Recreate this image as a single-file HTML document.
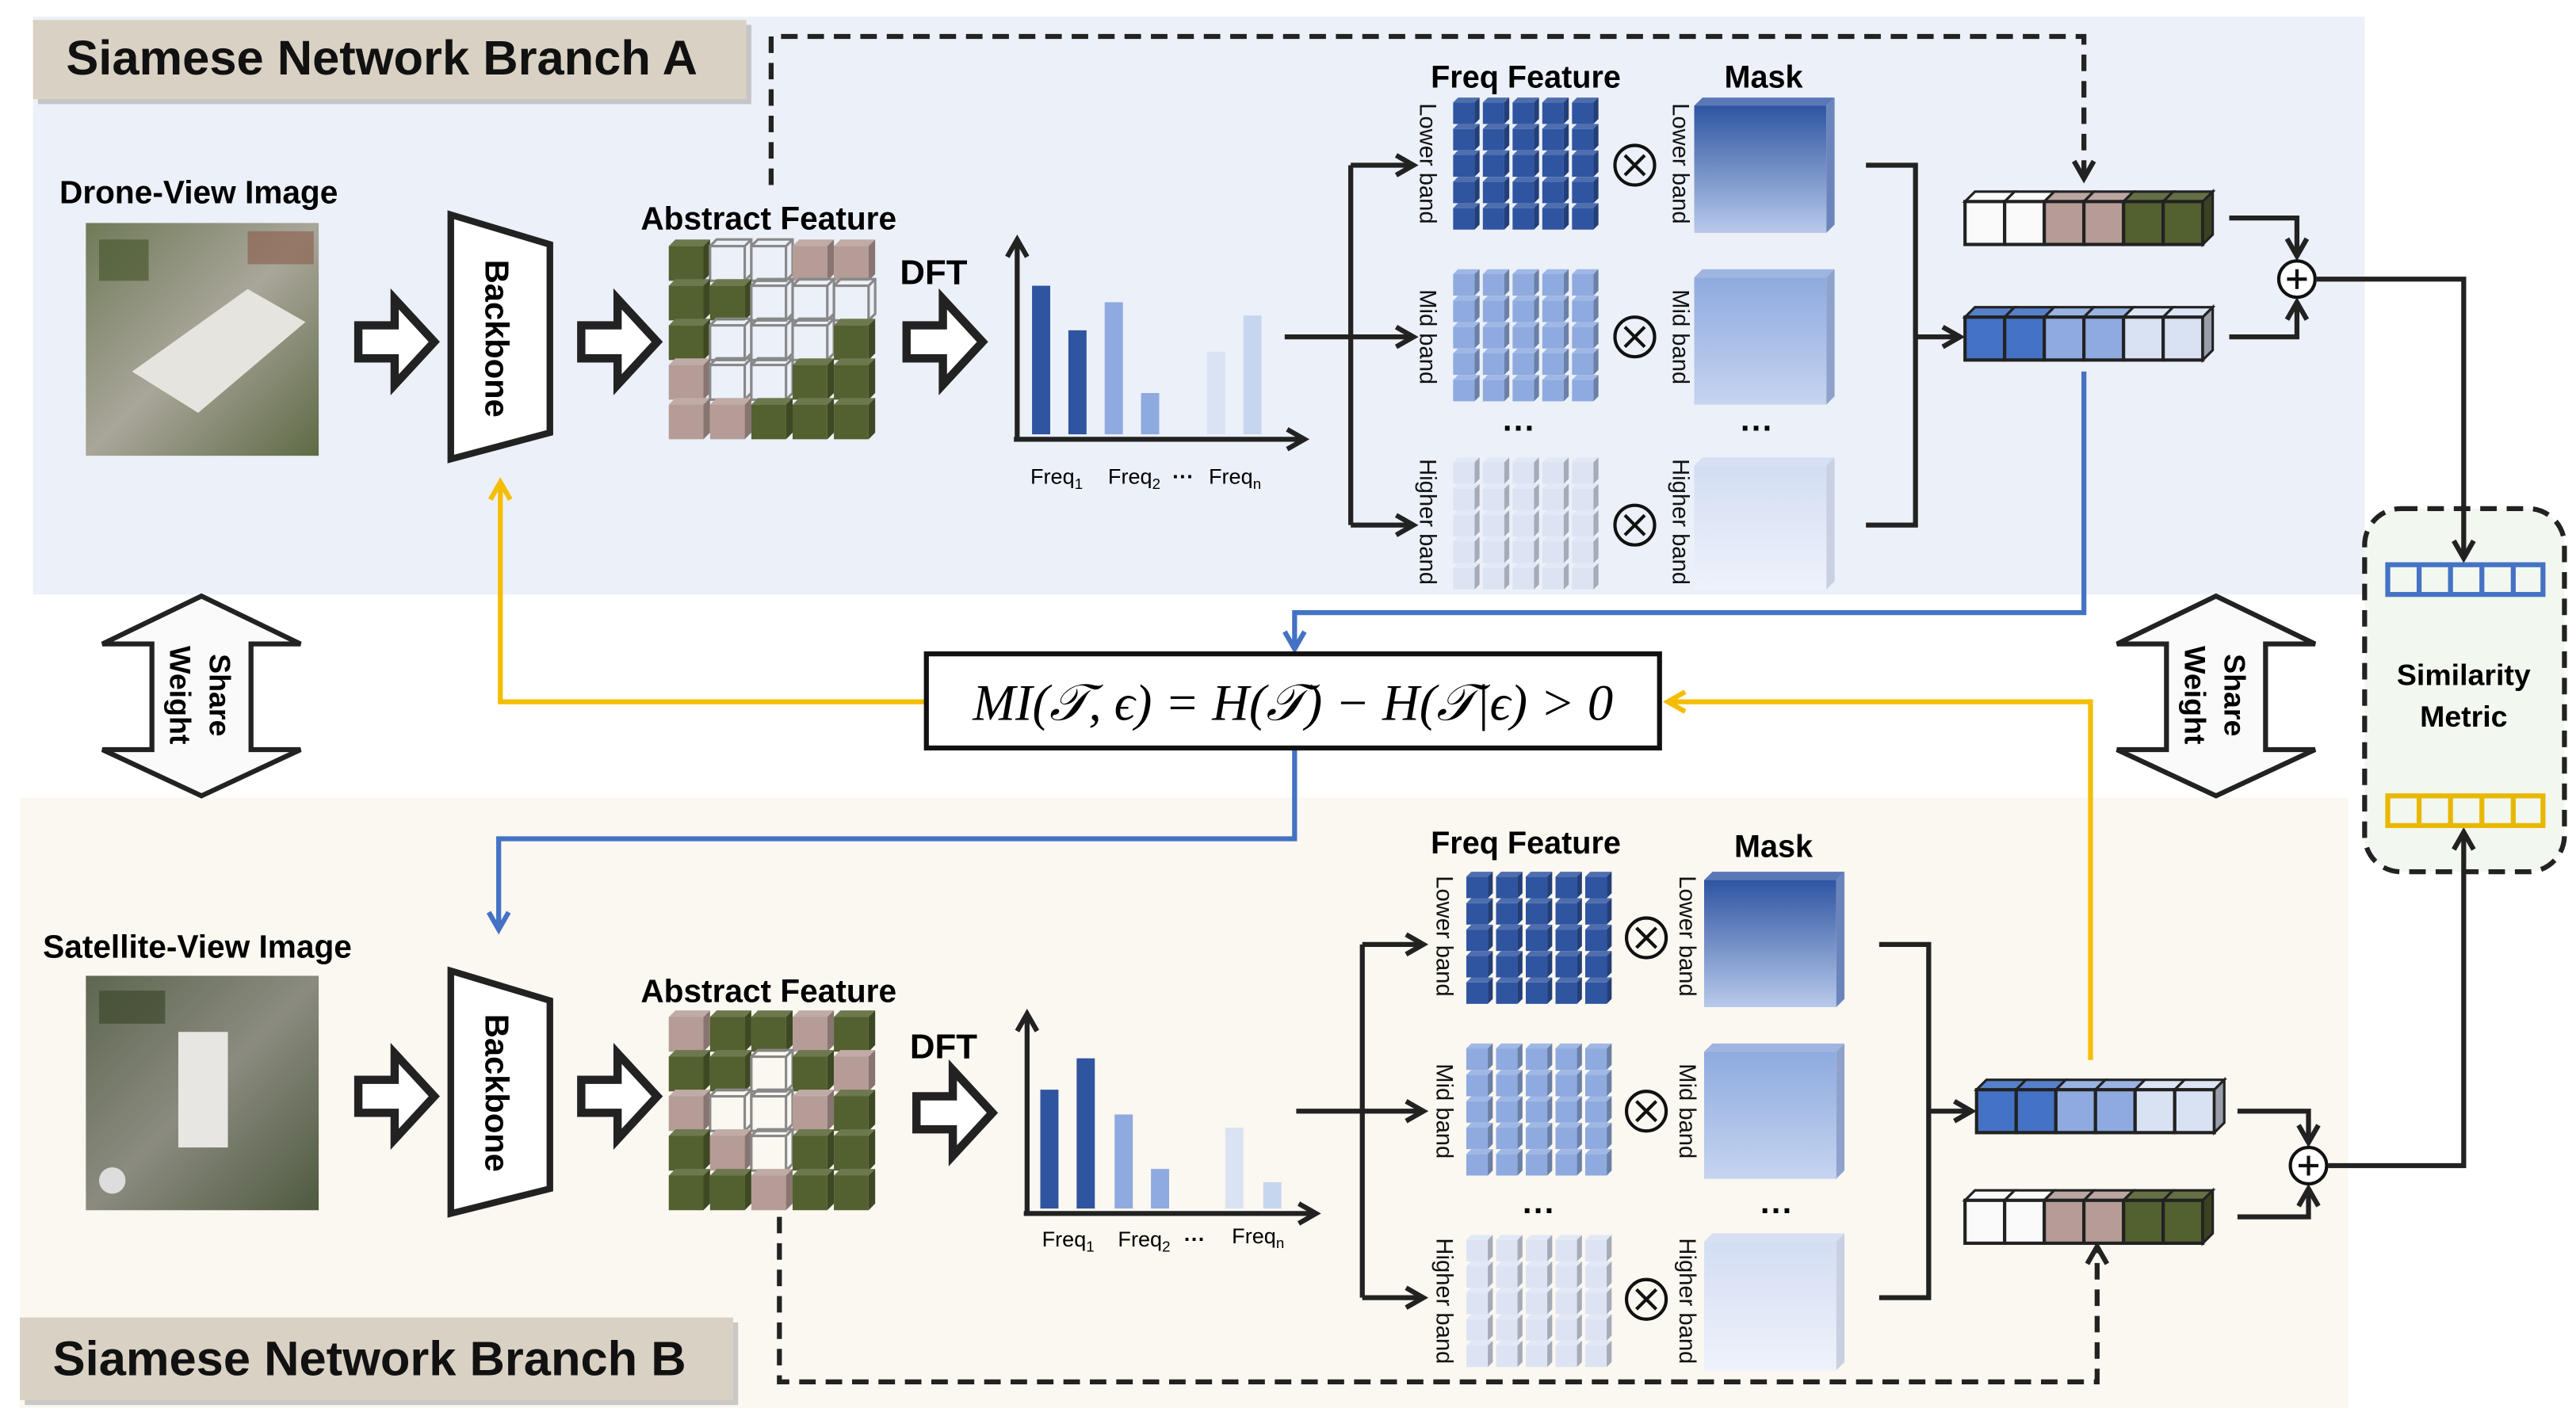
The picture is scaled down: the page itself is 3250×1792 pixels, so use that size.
<!DOCTYPE html>
<html><head><meta charset="utf-8">
<style>
html,body{margin:0;padding:0;background:#fff;}
svg{display:block;}
.b{font-weight:bold;}
</style></head>
<body>
<svg id="s" xmlns="http://www.w3.org/2000/svg" width="3250" height="1792" viewBox="0 0 1560 860" font-family="Liberation Sans, Arial, sans-serif">
<defs>
<marker id="ah" viewBox="0 0 10 10" refX="8" refY="5" markerWidth="5" markerHeight="5" orient="auto-start-reverse"><path d="M1,1 L8,5 L1,9" fill="none" stroke="#222" stroke-width="2"/></marker>
<marker id="ahb" viewBox="0 0 10 10" refX="8" refY="5" markerWidth="5" markerHeight="5" orient="auto"><path d="M1,1 L8,5 L1,9" fill="none" stroke="#4472c4" stroke-width="2"/></marker>
<marker id="ahy" viewBox="0 0 10 10" refX="8" refY="5" markerWidth="5" markerHeight="5" orient="auto"><path d="M1,1 L8,5 L1,9" fill="none" stroke="#f5bd00" stroke-width="2"/></marker>
<linearGradient id="m1" x1="0" y1="0" x2="0" y2="1"><stop offset="0" stop-color="#2f55a2"/><stop offset="1" stop-color="#b8c9ea"/></linearGradient>
<linearGradient id="m2" x1="0" y1="0" x2="0" y2="1"><stop offset="0" stop-color="#8eaadf"/><stop offset="1" stop-color="#c6d4ef"/></linearGradient>
<linearGradient id="m3" x1="0" y1="0" x2="0" y2="1"><stop offset="0" stop-color="#d3ddf3"/><stop offset="1" stop-color="#eef2fa"/></linearGradient>
<linearGradient id="dr" x1="0" y1="0" x2="1" y2="1"><stop offset="0" stop-color="#6f7a58"/><stop offset=".5" stop-color="#a9a69a"/><stop offset="1" stop-color="#5e6a45"/></linearGradient>
<linearGradient id="sa" x1="0" y1="0" x2="1" y2="1"><stop offset="0" stop-color="#5d6650"/><stop offset=".5" stop-color="#8b8b80"/><stop offset="1" stop-color="#4f5a40"/></linearGradient>
</defs>

<rect x="20" y="10" width="1412" height="350" fill="#ecf0f8"/>
<rect x="12" y="483" width="1410" height="370" fill="#fbf7f1"/>
<rect x="1432" y="308" width="121" height="220" rx="22" fill="#f2f7ef" stroke="#222" stroke-width="3" stroke-dasharray="10,6"/>

<rect x="23" y="15" width="432" height="48" fill="#9a9a9a" opacity=".5"/>
<rect x="20" y="12" width="432" height="48" fill="#d9d1c3"/>
<text x="40" y="45" class="b" font-size="29.5" fill="#111">Siamese Network Branch A</text>
<rect x="15" y="801" width="432" height="50" fill="#9a9a9a" opacity=".5"/>
<rect x="12" y="798" width="432" height="50" fill="#d9d1c3"/>
<text x="32" y="833" class="b" font-size="29.5" fill="#111">Siamese Network Branch B</text>

<text x="36" y="123" class="b" font-size="19.5">Drone-View Image</text>
<rect x="52" y="135" width="141" height="141" fill="url(#dr)"/>
<polygon points="80,225 150,175 185,195 120,250" fill="#e6e4de"/>
<rect x="60" y="145" width="30" height="25" fill="#4d5a33" opacity=".7"/>
<rect x="150" y="140" width="40" height="20" fill="#8a5a4a" opacity=".6"/>
<text x="26" y="580" class="b" font-size="19.5">Satellite-View Image</text>
<rect x="52" y="591" width="141" height="142" fill="url(#sa)"/>
<rect x="108" y="625" width="30" height="70" fill="#e8e6e2"/>
<rect x="60" y="600" width="40" height="20" fill="#3f4a2e" opacity=".7"/>
<circle cx="68" cy="715" r="8" fill="#ddd"/>

<g id="dyn"></g>

<polygon points="273,130 333,148 333,262 273,278" fill="#fff" stroke="#222" stroke-width="4"/>
<text transform="translate(294,205) rotate(90)" text-anchor="middle" class="b" font-size="20">Backbone</text>
<polygon points="273,588 333,606 333,720 273,735" fill="#fff" stroke="#222" stroke-width="4"/>
<text transform="translate(294,662) rotate(90)" text-anchor="middle" class="b" font-size="20">Backbone</text>

<text x="388" y="139" class="b" font-size="19.5">Abstract Feature</text>
<text x="388" y="607" class="b" font-size="19.5">Abstract Feature</text>
<text x="545" y="172" class="b" font-size="21">DFT</text>
<text x="551" y="641" class="b" font-size="21">DFT</text>

<g stroke="#222" stroke-width="3" fill="none" marker-end="url(#ah)">
<path d="M616,266 V145"/><path d="M614,266 H790"/>
<path d="M622,735 V614"/><path d="M620,735 H797"/>
</g>
<g font-size="13">
<text x="624" y="293">Freq<tspan font-size="9" dy="3">1</tspan></text>
<text x="671" y="293">Freq<tspan font-size="9" dy="3">2</tspan></text>
<text x="710" y="293" class="b">···</text>
<text x="732" y="293">Freq<tspan font-size="9" dy="3">n</tspan></text>
<text x="631" y="755">Freq<tspan font-size="9" dy="3">1</tspan></text>
<text x="677" y="755">Freq<tspan font-size="9" dy="3">2</tspan></text>
<text x="717" y="755" class="b">···</text>
<text x="746" y="753">Freq<tspan font-size="9" dy="3">n</tspan></text>
</g>

<text x="924" y="53" text-anchor="middle" class="b" font-size="19">Freq Feature</text>
<text x="1068" y="53" text-anchor="middle" class="b" font-size="19">Mask</text>
<text x="924" y="517" text-anchor="middle" class="b" font-size="19">Freq Feature</text>
<text x="1074" y="519" text-anchor="middle" class="b" font-size="19">Mask</text>
<g font-size="14" fill="#111">
<text transform="translate(860,99) rotate(90)" text-anchor="middle">Lower band</text>
<text transform="translate(860,204) rotate(90)" text-anchor="middle">Mid band</text>
<text transform="translate(860,316) rotate(90)" text-anchor="middle">Higher band</text>
<text transform="translate(1013,99) rotate(90)" text-anchor="middle">Lower band</text>
<text transform="translate(1013,204) rotate(90)" text-anchor="middle">Mid band</text>
<text transform="translate(1013,316) rotate(90)" text-anchor="middle">Higher band</text>
<text transform="translate(870,567) rotate(90)" text-anchor="middle">Lower band</text>
<text transform="translate(870,673) rotate(90)" text-anchor="middle">Mid band</text>
<text transform="translate(870,788) rotate(90)" text-anchor="middle">Higher band</text>
<text transform="translate(1017,567) rotate(90)" text-anchor="middle">Lower band</text>
<text transform="translate(1017,673) rotate(90)" text-anchor="middle">Mid band</text>
<text transform="translate(1017,788) rotate(90)" text-anchor="middle">Higher band</text>
</g>
<g class="b" font-size="20"><text x="910" y="266">···</text><text x="1054" y="266">···</text><text x="922" y="740">···</text><text x="1066" y="740">···</text></g>

<g stroke="none">
<polygon points="1026,64 1031,59 1111,59 1106,64" fill="#5a78b8"/><polygon points="1106,64 1111,59 1111,136 1106,141" fill="#6b84bb"/><rect x="1026" y="64" width="80" height="77" fill="url(#m1)"/>
<polygon points="1026,168 1031,163 1111,163 1106,168" fill="#9fb4e0"/><polygon points="1106,168 1111,163 1111,240 1106,245" fill="#8ea2cc"/><rect x="1026" y="168" width="80" height="77" fill="url(#m2)"/>
<polygon points="1026,282 1031,277 1111,277 1106,282" fill="#d7e0f2"/><polygon points="1106,282 1111,277 1111,352 1106,357" fill="#c8d0e2"/><rect x="1026" y="282" width="80" height="75" fill="url(#m3)"/>
<polygon points="1032,533 1037,528 1117,528 1112,533" fill="#5a78b8"/><polygon points="1112,533 1117,528 1117,605 1112,610" fill="#6b84bb"/><rect x="1032" y="533" width="80" height="77" fill="url(#m1)"/>
<polygon points="1032,637 1037,632 1117,632 1112,637" fill="#9fb4e0"/><polygon points="1112,637 1117,632 1117,709 1112,714" fill="#8ea2cc"/><rect x="1032" y="637" width="80" height="77" fill="url(#m2)"/>
<polygon points="1032,752 1037,747 1117,747 1112,752" fill="#d7e0f2"/><polygon points="1112,752 1117,747 1117,825 1112,830" fill="#c8d0e2"/><rect x="1032" y="752" width="80" height="78" fill="url(#m3)"/>
</g>

<g fill="none" stroke="#111" stroke-width="2">
<circle cx="990" cy="100" r="12"/><path d="M984,94 L996,106 M996,94 L984,106"/>
<circle cx="990" cy="204" r="12"/><path d="M984,198 L996,210 M996,198 L984,210"/>
<circle cx="990" cy="318" r="12"/><path d="M984,312 L996,324 M996,312 L984,324"/>
<circle cx="997" cy="568" r="12"/><path d="M991,562 L1003,574 M1003,562 L991,574"/>
<circle cx="997" cy="673" r="12"/><path d="M991,667 L1003,679 M1003,667 L991,679"/>
<circle cx="997" cy="787" r="12"/><path d="M991,781 L1003,793 M1003,781 L991,793"/>
</g>

<g stroke="#222" stroke-width="3" fill="none">
<path d="M778,204 H818"/><path d="M818,100 V318"/>
<path d="M818,100 H856" marker-end="url(#ah)"/><path d="M818,204 H856" marker-end="url(#ah)"/><path d="M818,318 H856" marker-end="url(#ah)"/>
<path d="M1130,100 H1160 V318 H1130"/><path d="M1160,204 H1187" marker-end="url(#ah)"/>
<path d="M785,673 H825"/><path d="M825,572 V786"/>
<path d="M825,572 H862" marker-end="url(#ah)"/><path d="M825,673 H862" marker-end="url(#ah)"/><path d="M825,786 H862" marker-end="url(#ah)"/>
<path d="M1138,572 H1168 V786 H1138"/><path d="M1168,673 H1194" marker-end="url(#ah)"/>
<path d="M1350,132 H1391 V155" marker-end="url(#ah)"/><path d="M1350,204 H1391 V183" marker-end="url(#ah)"/>
<path d="M1403,169 H1492 V338" marker-end="url(#ah)"/>
<path d="M1355,673 H1398 V692" marker-end="url(#ah)"/><path d="M1355,737 H1398 V720" marker-end="url(#ah)"/>
<path d="M1410,706 H1492 V504" marker-end="url(#ah)"/>
<path d="M467,112 V22 H1262 V108" stroke-dasharray="10,6" marker-end="url(#ah)"/>
<path d="M472,737 V837 H1270 V755" stroke-dasharray="10,6" marker-end="url(#ah)"/>
</g>
<g fill="#fff" stroke="#111" stroke-width="2">
<circle cx="1391" cy="169" r="11"/><circle cx="1398" cy="706" r="11"/>
</g>
<path d="M1385,169 H1397 M1391,163 V175 M1392,706 H1404 M1398,700 V712" stroke="#111" stroke-width="2"/>

<g fill="none" stroke-width="3">
<path d="M1262,225 V371 H784 V393" stroke="#4472c4" marker-end="url(#ahb)"/>
<path d="M784,453 V508 H302 V563" stroke="#4472c4" marker-end="url(#ahb)"/>
<path d="M561,425 H303 V292" stroke="#f5bd00" marker-end="url(#ahy)"/>
<path d="M1266,642 V425 H1010" stroke="#f5bd00" marker-end="url(#ahy)"/>
</g>

<rect x="561" y="396" width="444" height="57" fill="#fff" stroke="#111" stroke-width="3"/>
<text x="783" y="436" text-anchor="middle" style="font-family:'Liberation Serif','DejaVu Serif',serif" font-style="italic" font-size="31">MI(𝒯, ϵ) = H(𝒯) − H(𝒯|ϵ) &gt; 0</text>

<g fill="#fafafa" stroke="#222" stroke-width="3">
<polygon points="122,361 182,390 152,390 152,454 182,454 122,482 62,454 92,454 92,390 62,390"/>
<polygon points="1342,361 1402,390 1372,390 1372,454 1402,454 1342,482 1282,454 1312,454 1312,390 1282,390"/>
</g>
<g class="b" font-size="18">
<text transform="translate(127,421) rotate(90)" text-anchor="middle">Share</text>
<text transform="translate(103,421) rotate(90)" text-anchor="middle">Weight</text>
<text transform="translate(1347,421) rotate(90)" text-anchor="middle">Share</text>
<text transform="translate(1323,421) rotate(90)" text-anchor="middle">Weight</text>
</g>

<text x="1492" y="415" text-anchor="middle" class="b" font-size="18">Similarity</text>
<text x="1492" y="440" text-anchor="middle" class="b" font-size="18">Metric</text>
<g fill="none" stroke-width="3">
<rect x="1446" y="342" width="94" height="18" stroke="#4472c4"/>
<path d="M1465,342 V360 M1484,342 V360 M1503,342 V360 M1522,342 V360" stroke="#4472c4"/>
<rect x="1446" y="482" width="94" height="18" stroke="#e8b800"/>
<path d="M1465,482 V500 M1484,482 V500 M1503,482 V500 M1522,482 V500" stroke="#e8b800"/>
</g>
</svg>
<script>
var NS="http://www.w3.org/2000/svg",g=document.getElementById("dyn");
function el(t,a){var e=document.createElementNS(NS,t);for(var k in a)e.setAttribute(k,a[k]);g.appendChild(e);return e;}
function shade(c,f){var n=parseInt(c.slice(1),16),r=n>>16,gg=(n>>8)&255,b=n&255;function m(v){return Math.max(0,Math.min(255,Math.round(f>1?v+(255-v)*(f-1):v*f)));}return "rgb("+m(r)+","+m(gg)+","+m(b)+")";}
function cube(x,y,s,d,c,outline){
 if(outline){var st={fill:"none",stroke:"#888","stroke-width":1.5};
  el("rect",Object.assign({x:x,y:y+d,width:s,height:s},st));
  el("path",Object.assign({d:"M"+x+","+(y+d)+" L"+(x+d)+","+y+" H"+(x+s+d)+" V"+(y+s)+" L"+(x+s)+","+(y+s+d)+" M"+(x+s)+","+(y+d)+" L"+(x+s+d)+","+y},st));return;}
 el("rect",{x:x,y:y+d,width:s,height:s,fill:c});
 el("polygon",{points:x+","+(y+d)+" "+(x+d)+","+y+" "+(x+s+d)+","+y+" "+(x+s)+","+(y+d),fill:shade(c,1.15)});
 el("polygon",{points:(x+s)+","+(y+d)+" "+(x+s+d)+","+y+" "+(x+s+d)+","+(y+s)+" "+(x+s)+","+(y+s+d),fill:shade(c,0.75)});
}
var C={G:"#53602f",P:"#b59c96"};
function grid(x0,y0,pat){for(var r=0;r<5;r++)for(var c=0;c<5;c++){var t=pat[r][c];cube(x0+c*25,y0+r*24,21,4,C[t],t=="W");}}
grid(405,145,["GWWPP","GGWWW","GWWWG","PWWGG","PPGGG"]);
grid(405,612,["PGGPG","GGWGP","PWWPG","GPWGG","GGPGG"]);
function fgrid(x0,y0,c){for(var r=0;r<5;r++)for(var cc=0;cc<5;cc++)cube(x0+cc*18,y0+r*16,13,3,c,false);}
fgrid(880,59,"#2f54a0");fgrid(880,163,"#8eaadf");fgrid(880,277,"#dce4f4");
fgrid(888,528,"#2f54a0");fgrid(888,632,"#8eaadf");fgrid(888,748,"#dce4f4");
function hollow(x,y){el("path",{d:"M"+x+","+(y+16)+" h22 v-16 l24,26 l-24,26 v-16 h-22 z",fill:"#fff",stroke:"#222","stroke-width":5,"stroke-linejoin":"miter"});}
hollow(217,181);hollow(352,181);hollow(549,181);hollow(217,638);hollow(352,638);hollow(555,648);
function bars(list,base){list.forEach(function(b){el("rect",{x:b[0],y:b[1],width:11,height:base-b[1],fill:b[2]});});}
bars([[625,173,"#2f54a0"],[647,200,"#2f54a0"],[669,183,"#8eaadf"],[691,238,"#8eaadf"],[731,213,"#dae3f4"],[753,191,"#c7d6ef"]],263);
bars([[630,660,"#2f54a0"],[652,641,"#2f54a0"],[675,675,"#8eaadf"],[697,708,"#8eaadf"],[742,683,"#dae3f4"],[765,716,"#c7d6ef"]],732);
function vec(x,y,cols){var w=24,h=26,d=6;cols.forEach(function(c,i){var xx=x+i*w;
 el("polygon",{points:xx+","+y+" "+(xx+d)+","+(y-d)+" "+(xx+w+d)+","+(y-d)+" "+(xx+w)+","+y,fill:shade(c,1.1),stroke:"#222","stroke-width":1.5});
 el("rect",{x:xx,y:y,width:w,height:h,fill:c,stroke:"#222","stroke-width":2});});
 var xe=x+cols.length*w;el("polygon",{points:xe+","+y+" "+(xe+d)+","+(y-d)+" "+(xe+d)+","+(y+h-d)+" "+xe+","+(y+h),fill:shade(cols[cols.length-1],0.7),stroke:"#222","stroke-width":1.5});}
var mix=["#fafafa","#fafafa","#b59c96","#b59c96","#53602f","#53602f"],blu=["#4472c4","#4472c4","#8eaadf","#8eaadf","#d9e2f3","#d9e2f3"];
vec(1190,122,mix);vec(1190,192,blu);vec(1197,660,blu);vec(1190,727,mix);
</script>
</body></html>
